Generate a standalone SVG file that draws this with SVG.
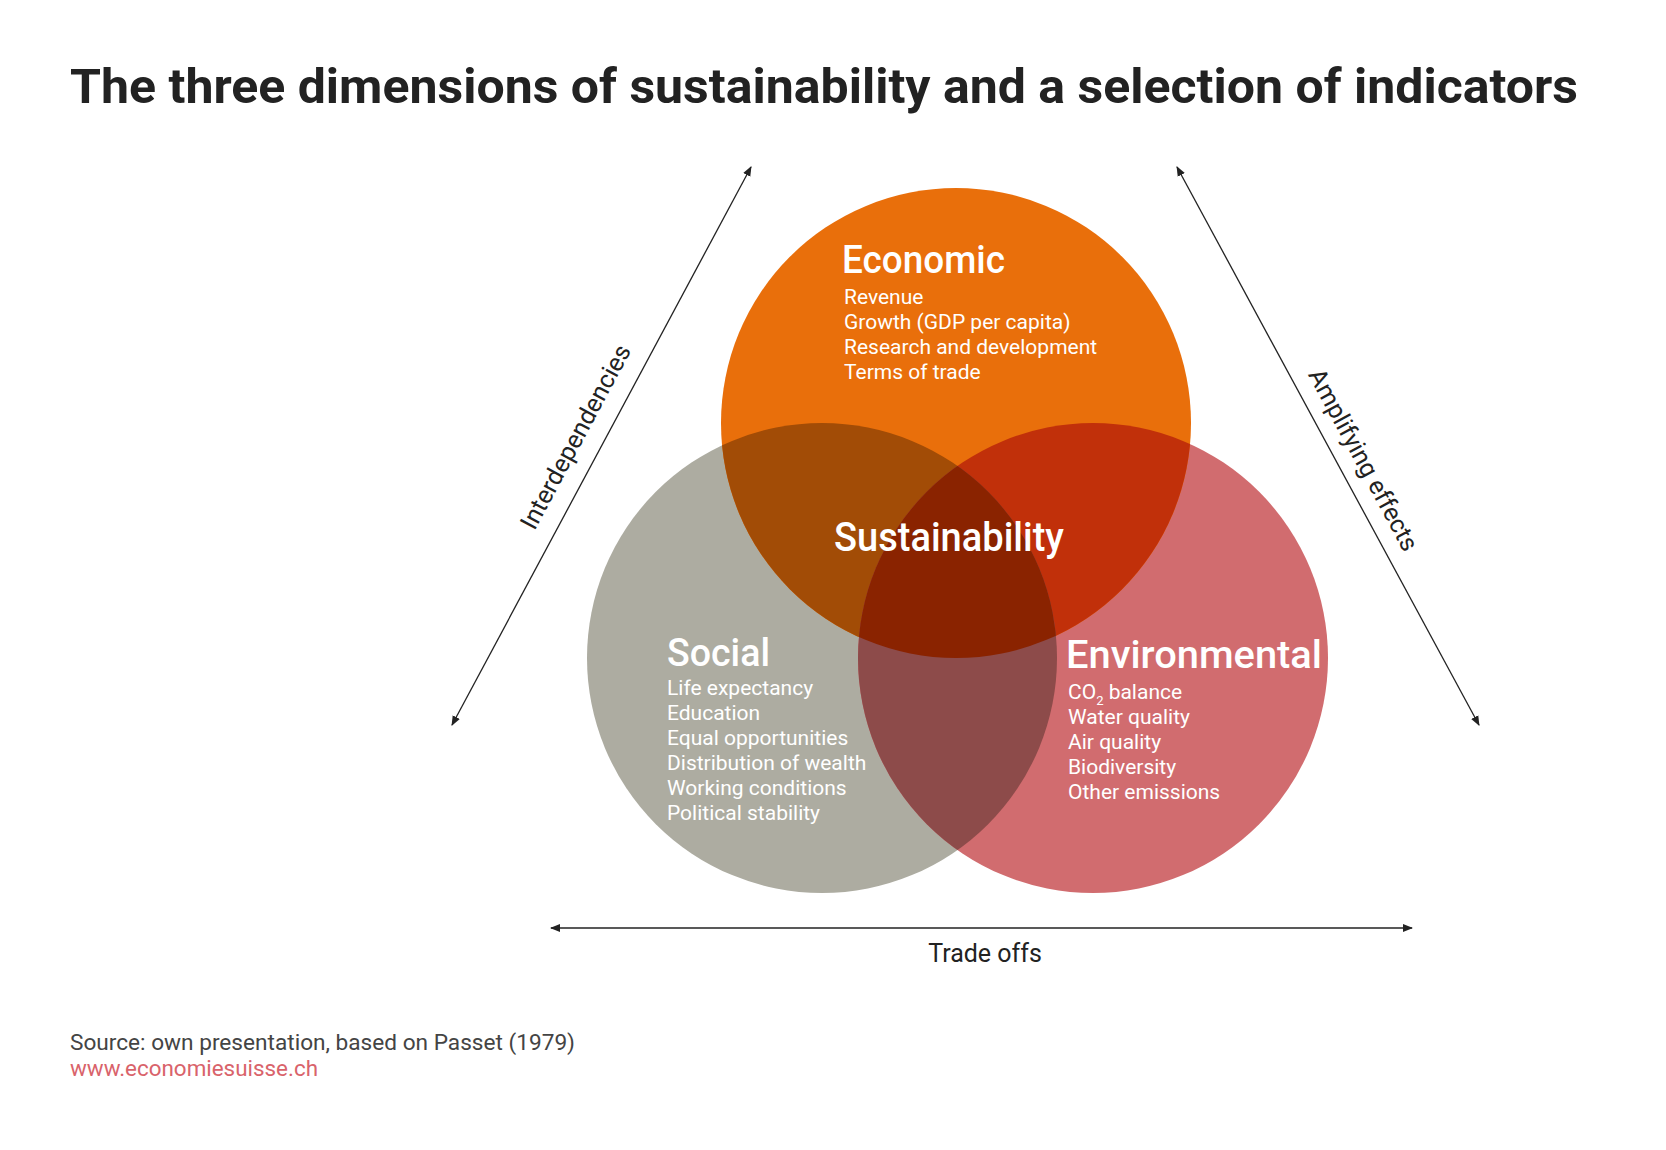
<svg xmlns="http://www.w3.org/2000/svg" width="1666" height="1150" viewBox="0 0 1666 1150">
<style>
.t{font-family:Roboto,"Liberation Sans",sans-serif}
.h{font-size:38px;font-weight:500;fill:#fff}
.i{font-size:21px;font-weight:400;fill:#fff}
.lbl{font-size:25px;fill:#222}
.ln{stroke:#222;stroke-width:1.3;fill:none}
</style>
<defs>
<marker id="ah" viewBox="0 0 10 10" refX="9" refY="5" markerWidth="10" markerHeight="10" markerUnits="userSpaceOnUse" orient="auto-start-reverse">
<path d="M0,1 L10,5 L0,9 Z" fill="#222"/>
</marker>
<clipPath id="cE"><circle cx="956" cy="423" r="235"/></clipPath>
<clipPath id="cS"><circle cx="822" cy="658" r="235"/></clipPath>
<clipPath id="cV"><circle cx="1093" cy="658" r="235"/></clipPath>
</defs>
<rect width="1666" height="1150" fill="#fff"/>
<text class="t" x="70" y="103" font-size="49" font-weight="700" fill="#222" textLength="1508" lengthAdjust="spacingAndGlyphs">The three dimensions of sustainability and a selection of indicators</text>

<g id="circles">
<circle id="c-social" cx="822" cy="658" r="235" fill="#ADACA1"/>
<circle id="c-env" cx="1093" cy="658" r="235" fill="#D16C6F"/>
<circle id="c-econ" cx="956" cy="423" r="235" fill="#E96F0B"/>
<circle cx="822" cy="658" r="235" fill="#A24C06" clip-path="url(#cE)"/>
<circle cx="1093" cy="658" r="235" fill="#C1300A" clip-path="url(#cE)"/>
<circle cx="1093" cy="658" r="235" fill="#8D4B4A" clip-path="url(#cS)"/>
<g clip-path="url(#cE)"><circle cx="1093" cy="658" r="235" fill="#8A2300" clip-path="url(#cS)"/></g>
</g>

<g id="economic">
<text class="t h" x="842" y="273" textLength="163" lengthAdjust="spacingAndGlyphs">Economic</text>
<text class="t i" x="844" y="304">Revenue</text>
<text class="t i" x="844" y="329">Growth (GDP per capita)</text>
<text class="t i" x="844" y="354">Research and development</text>
<text class="t i" x="844" y="379">Terms of trade</text>
</g>

<g id="social">
<text class="t h" x="667" y="666" textLength="103" lengthAdjust="spacingAndGlyphs">Social</text>
<text class="t i" x="667" y="695">Life expectancy</text>
<text class="t i" x="667" y="720">Education</text>
<text class="t i" x="667" y="745">Equal opportunities</text>
<text class="t i" x="667" y="770">Distribution of wealth</text>
<text class="t i" x="667" y="795">Working conditions</text>
<text class="t i" x="667" y="820">Political stability</text>
</g>

<g id="environmental">
<text class="t h" x="1066" y="668" textLength="256" lengthAdjust="spacingAndGlyphs">Environmental</text>
<text class="t i" x="1068" y="699">CO<tspan font-size="13" dy="6">2</tspan><tspan dy="-6"> balance</tspan></text>
<text class="t i" x="1068" y="724">Water quality</text>
<text class="t i" x="1068" y="749">Air quality</text>
<text class="t i" x="1068" y="774">Biodiversity</text>
<text class="t i" x="1068" y="799">Other emissions</text>
</g>

<g id="sustainability">
<text class="t" x="834" y="551" font-size="41" font-weight="500" fill="#fff" textLength="230" lengthAdjust="spacingAndGlyphs">Sustainability</text>
</g>

<g id="connectors">
<line class="ln" x1="452" y1="725" x2="751" y2="167" marker-start="url(#ah)" marker-end="url(#ah)"/>
<line class="ln" x1="1177" y1="167" x2="1479" y2="725" marker-start="url(#ah)" marker-end="url(#ah)"/>
<line class="ln" x1="551" y1="928" x2="1412" y2="928" marker-start="url(#ah)" marker-end="url(#ah)"/>
<text class="t lbl" transform="translate(576,437) rotate(-61.8)" x="0" y="8" text-anchor="middle">Interdependencies</text>
<text class="t lbl" transform="translate(1363,460) rotate(61.6)" x="0" y="8" text-anchor="middle">Amplifying effects</text>
<text class="t lbl" x="985" y="962" text-anchor="middle">Trade offs</text>
</g>

<g id="footer">
<text class="t" x="70" y="1050" font-size="22" fill="#444" textLength="505" lengthAdjust="spacingAndGlyphs">Source: own presentation, based on Passet (1979)</text>
<text class="t" x="70" y="1076" font-size="22" fill="#D9636B" textLength="248" lengthAdjust="spacingAndGlyphs">www.economiesuisse.ch</text>
</g>
</svg>
